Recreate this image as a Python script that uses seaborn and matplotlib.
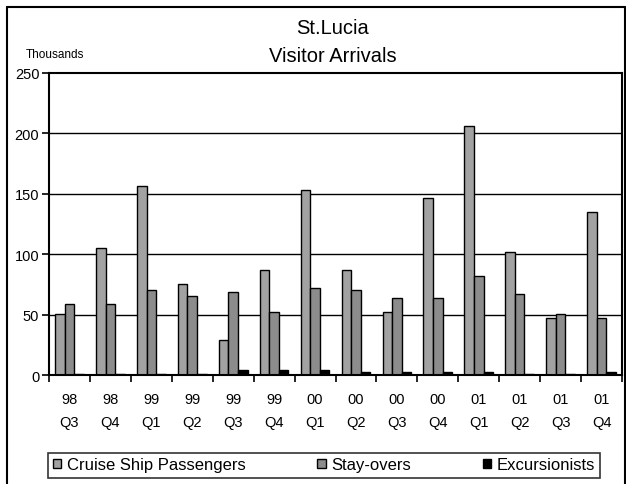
import matplotlib
matplotlib.use("Agg")
import matplotlib.pyplot as plt
from matplotlib.patches import Patch
from matplotlib.lines import Line2D
import seaborn as sns
import pandas as pd

# Quarterly visitor arrivals to St. Lucia, thousands
years = ["98", "98", "99", "99", "99", "99", "00", "00", "00", "00", "01", "01", "01", "01"]
quarters = ["Q3", "Q4", "Q1", "Q2", "Q3", "Q4", "Q1", "Q2", "Q3", "Q4", "Q1", "Q2", "Q3", "Q4"]
cruise = [50.8, 105.4, 156.6, 75.6, 29.3, 87.2, 153.3, 87.2, 52.4, 146.7, 206.3, 102.0, 47.5, 135.2]
stayovers = [59.0, 59.0, 70.6, 65.7, 69.0, 52.4, 72.3, 70.6, 64.0, 64.0, 82.2, 67.3, 50.8, 47.5]
excursionists = [0.9, 0.9, 0.9, 0.8, 4.0, 4.0, 4.2, 2.5, 2.3, 2.3, 2.5, 1.0, 0.8, 2.6]
series_names = ["Cruise Ship Passengers", "Stay-overs", "Excursionists"]
series_colors = ["#A2A2A2", "#8C8C8C", "#000000"]

labels = [f"{y}\n{q}" for y, q in zip(years, quarters)]
rows = []
for name, vals in zip(series_names, [cruise, stayovers, excursionists]):
    for lab, v in zip(labels, vals):
        rows.append({"period": lab, "series": name, "value": v})
df = pd.DataFrame(rows)

sns.set_theme(style="white")
plt.rcParams["font.family"] = ["Liberation Sans", "DejaVu Sans"]

W, H = 626, 485
fig = plt.figure(figsize=(W / 100, H / 100), dpi=100)
L, R, T, B = 49, 622, 74, 376
ax = fig.add_axes([L / W, 1 - B / H, (R - L) / W, (B - T) / H])

sns.barplot(data=df, x="period", y="value", hue="series", order=labels,
            hue_order=series_names, palette=series_colors, width=0.7,
            saturation=1, edgecolor="black", linewidth=1.0, legend=False,
            errorbar=None, ax=ax)

ax.set_xlim(-0.5, len(labels) - 0.5)
ax.set_ylim(0, 250)
ax.set_yticks([0, 50, 100, 150, 200, 250])
ax.set_xlabel("")
ax.set_ylabel("")
ax.set_facecolor("white")

for y in [50, 100, 150, 200]:
    ax.axhline(y, color="black", linewidth=1.0, zorder=0)

for s in ax.spines.values():
    s.set_visible(True)
    s.set_color("black")
    s.set_linewidth(1.5)

# category labels centred, tick marks on the category boundaries
ax.set_xticks(range(len(labels)))
ax.set_xticklabels(labels, fontsize=10.5, linespacing=1.75)
ax.set_xticks([i - 0.5 for i in range(len(labels) + 1)], minor=True)
ax.tick_params(axis="x", which="major", length=0, pad=12.5)
ax.tick_params(axis="x", which="minor", length=5, width=1.2, color="black", direction="out", bottom=True)
ax.tick_params(axis="y", which="major", length=5, width=1.2, color="black", direction="out",
               left=True, pad=2, labelsize=10.5)
for t in ax.get_yticklabels():
    t.set_color("black")
for t in ax.get_xticklabels():
    t.set_color("black")

fig.text(333 / W, 1 - 29 / H, "St.Lucia", ha="center", va="center", fontsize=14.5, color="black")
fig.text(333 / W, 1 - 57 / H, "Visitor Arrivals", ha="center", va="center", fontsize=14.5, color="black")
fig.text(26 / W, 1 - 55 / H, "Thousands", ha="left", va="center", fontsize=8.5, color="black")

handles = [Patch(facecolor=c, edgecolor="black", linewidth=1.0) for c in series_colors]
leg = fig.legend(handles, series_names, loc="center", bbox_to_anchor=(324 / W, 1 - 466 / H),
                 ncol=3, frameon=True, fancybox=False, shadow=False, fontsize=12,
                 handlelength=0.5, handleheight=0.5, handletextpad=0.35,
                 columnspacing=4.3, borderpad=0.3, borderaxespad=0)
leg.get_frame().set_edgecolor("black")
leg.get_frame().set_linewidth(1.2)
for t in leg.get_texts():
    t.set_color("black")

# chart-area border
for xs, ys in [((7 / W, 7 / W), (0, 1 - 8 / H)),
               ((7 / W, 625 / W), (1 - 8 / H, 1 - 8 / H)),
               ((625 / W, 625 / W), (0, 1 - 8 / H))]:
    fig.add_artist(Line2D(xs, ys, color="black", linewidth=1.5))

fig.savefig("out.png", dpi=100, facecolor="white")
